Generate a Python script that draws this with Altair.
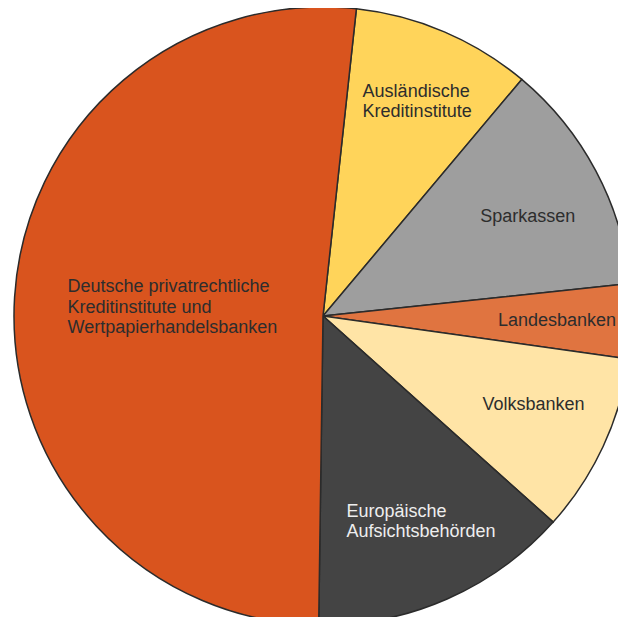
import math
import altair as alt
import pandas as pd

categories = [
    "Ausländische Kreditinstitute",
    "Sparkassen",
    "Landesbanken",
    "Volksbanken",
    "Europäische Aufsichtsbehörden",
    "Deutsche privatrechtliche Kreditinstitute und Wertpapierhandelsbanken",
]
labels = [
    "Ausländische\nKreditinstitute",
    "Sparkassen",
    "Landesbanken",
    "Volksbanken",
    "Europäische\nAufsichtsbehörden",
    "Deutsche privatrechtliche\nKreditinstitute und\nWertpapierhandelsbanken",
]
shares = [9.4, 12.2, 3.9, 9.4, 13.6, 51.5]
colors = ["#FFD45A", "#9E9E9E", "#E07440", "#FFE4A6", "#444444", "#D9541E"]

df = pd.DataFrame({
    "idx": list(range(len(categories))),
    "category": categories,
    "label": labels,
    "share": shares,
})

start = math.radians(6.2)
theta_scale = alt.Scale(range=[start, start + 2 * math.pi])
CX, CY = 315, 308
R = 309

base = alt.Chart(df)

pie = base.mark_arc(outerRadius=R, stroke="#2b2b2b", strokeWidth=1.5).encode(
    theta=alt.Theta("share:Q", stack=True, scale=theta_scale),
    color=alt.Color("category:N", scale=alt.Scale(domain=categories, range=colors), legend=None),
    order=alt.Order("idx:Q"),
    x=alt.value(CX),
    y=alt.value(CY),
)

# (category index, align, radius, dx, dy, color)
label_specs = [
    (0, "left", 218, -46, -19, "#2d2d2d"),
    (1, "center", 225, 6, 12, "#2d2d2d"),
    (2, "center", 234, 0, 6, "#2d2d2d"),
    (3, "center", 231, 1, -3, "#2d2d2d"),
    (4, "left", 193, -54, 24, "#eeeeee"),
    (5, "left", 256, 0, -8, "#2d2d2d"),
]

layers = [pie]
for i, align, rad, dx, dy, col in label_specs:
    cat = categories[i].replace("'", "\\'")
    layers.append(
        base.mark_text(
            radius=rad, align=align, baseline="alphabetic", dx=dx, dy=dy,
            font="Liberation Sans", fontSize=18, lineHeight=20.5,
            lineBreak="\n", color=col,
        ).encode(
            theta=alt.Theta("share:Q", stack=True, scale=theta_scale),
            order=alt.Order("idx:Q"),
            text=alt.condition(f"datum.category == '{cat}'", alt.Text("label:N"), alt.value("")),
            x=alt.value(CX),
            y=alt.value(CY),
        )
    )

chart = alt.layer(*layers).properties(
    width=610, height=609,
    autosize=alt.AutoSizeParams(type="none"),
    padding=0,
).configure_view(stroke=None)

chart.save("out.html", embed_options={"renderer": "svg", "actions": False})
